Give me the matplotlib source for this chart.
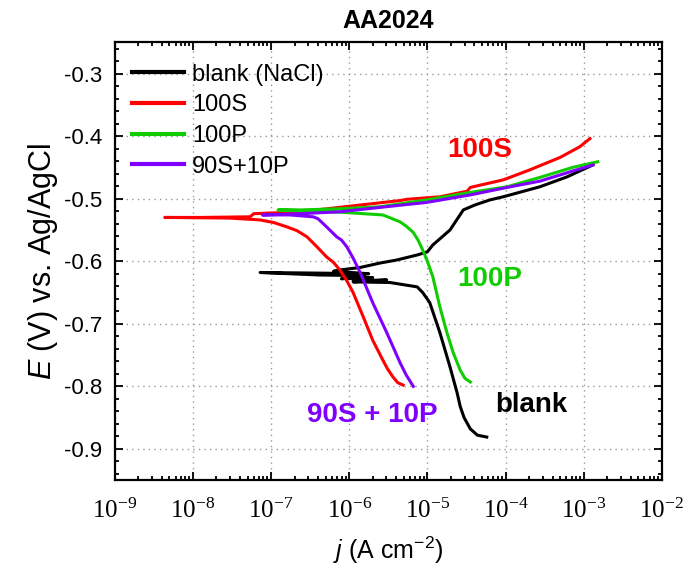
import numpy as np
import matplotlib
matplotlib.use("Agg")
import matplotlib.pyplot as plt
from matplotlib.ticker import MultipleLocator, LogLocator, NullFormatter, FuncFormatter

plt.rcParams['font.family'] = ['Liberation Sans', 'DejaVu Sans']
plt.rcParams['axes.unicode_minus'] = False
plt.rcParams['mathtext.fontset'] = 'custom'
plt.rcParams['mathtext.rm'] = 'Liberation Sans'
plt.rcParams['mathtext.it'] = 'Liberation Sans:italic'

# Polarization curves: log10(j / A cm^-2) and E (V vs Ag/AgCl)
blank_logj = [-4.24, -4.36, -4.45, -4.53, -4.58, -4.62, -4.71, -4.84, -4.97, -5.06,
              -5.13, -5.48, -5.95, -5.52, -5.95, -5.70, -6.10, -5.80, -6.38, -7.14,
              -6.38, -5.75, -6.20, -6.12, -5.86, -5.61, -5.39, -5.13, -5.00, -4.93,
              -4.71, -4.54, -4.39, -4.20, -4.03, -3.56, -3.21, -2.88]
blank_E = [-0.881, -0.878, -0.868, -0.850, -0.832, -0.810, -0.769, -0.714, -0.666, -0.650,
           -0.641, -0.634, -0.633, -0.630, -0.631, -0.626, -0.628, -0.623, -0.622, -0.618,
           -0.619, -0.620, -0.616, -0.614, -0.610, -0.603, -0.598, -0.590, -0.585, -0.574,
           -0.550, -0.518, -0.510, -0.502, -0.497, -0.481, -0.465, -0.446]

s100_logj = [-5.31, -5.38, -5.44, -5.51, -5.57, -5.70, -5.82, -5.95, -6.04, -6.12,
             -6.20, -6.29, -6.42, -6.54, -6.67, -6.80, -6.97, -7.14, -7.53, -8.36,
             -7.91, -7.27, -7.22, -6.63, -5.99, -5.35, -5.26, -4.84, -4.49, -4.45,
             -4.03, -3.69, -3.30, -3.05, -2.92]
s100_E = [-0.798, -0.794, -0.785, -0.772, -0.758, -0.726, -0.689, -0.650, -0.629, -0.614,
          -0.602, -0.593, -0.576, -0.561, -0.551, -0.545, -0.538, -0.534, -0.531, -0.530,
          -0.530, -0.529, -0.524, -0.521, -0.512, -0.503, -0.501, -0.497, -0.488, -0.482,
          -0.470, -0.454, -0.434, -0.417, -0.404]

p100_logj = [-4.45, -4.52, -4.58, -4.67, -4.75, -4.84, -4.93, -5.00, -5.06, -5.12,
             -5.18, -5.27, -5.35, -5.57, -6.06, -6.63, -6.91, -6.63, -6.10, -5.61,
             -5.01, -4.45, -3.98, -3.56, -3.14, -2.82]
p100_E = [-0.793, -0.787, -0.774, -0.746, -0.714, -0.673, -0.625, -0.600, -0.582, -0.566,
          -0.554, -0.544, -0.537, -0.526, -0.522, -0.519, -0.518, -0.518, -0.516, -0.513,
          -0.502, -0.490, -0.481, -0.466, -0.450, -0.441]

mix_logj = [-5.18, -5.27, -5.35, -5.52, -5.70, -5.86, -5.95, -6.03, -6.10, -6.16,
            -6.29, -6.40, -6.46, -6.76, -7.11, -6.63, -6.12, -5.61, -5.01, -4.45,
            -3.98, -3.56, -3.17, -2.88]
mix_E = [-0.800, -0.782, -0.762, -0.714, -0.666, -0.618, -0.595, -0.577, -0.566, -0.561,
         -0.545, -0.532, -0.529, -0.526, -0.526, -0.524, -0.521, -0.514, -0.506, -0.494,
         -0.482, -0.472, -0.457, -0.446]

labels = ['blank (NaCl)', '100S', '100P', '90S+10P']
colors = ['#000000', '#ff0000', '#11cc00', '#7f00ff']

fig = plt.figure(figsize=(6.83, 5.71), dpi=100)
ax = fig.add_axes([0.168, 0.159, 0.801, 0.767])

series = [(blank_logj, blank_E), (s100_logj, s100_E), (p100_logj, p100_E), (mix_logj, mix_E)]
for (lj, e), lab, c in zip(series, labels, colors):
    ax.plot(10 ** np.array(lj), e, color=c, lw=2.2, label=lab, solid_joinstyle='round')

ax.set_xscale('log')
ax.set_xlim(1e-9, 1e-2)
ax.set_ylim(-0.95, -0.25)
ax.yaxis.set_major_locator(MultipleLocator(0.1))
ax.yaxis.set_minor_locator(MultipleLocator(0.02))
ax.yaxis.set_major_formatter(FuncFormatter(lambda v, p: f"{v:.1f}"))
ax.xaxis.set_major_locator(LogLocator(base=10, numticks=20))
ax.xaxis.set_minor_locator(LogLocator(base=10, subs=np.arange(2, 10), numticks=20))
ax.xaxis.set_minor_formatter(NullFormatter())
ax.xaxis.set_major_formatter(FuncFormatter(
    lambda v, p: r'$\mathdefault{10^{%d}}$' % int(round(np.log10(v)))))

ax.tick_params(which='both', direction='in', top=True, right=True, width=1.3)
ax.tick_params(which='major', length=6)
ax.tick_params(which='minor', length=3)
ax.tick_params(axis='x', which='major', pad=13, labelsize=18)
ax.tick_params(axis='y', which='major', pad=9, labelsize=16)
for lbl in ax.get_xticklabels():
    lbl.set_family(['Liberation Serif', 'DejaVu Serif'])
for sp in ax.spines.values():
    sp.set_linewidth(1.6)

ax.grid(True, which='major', linestyle=(0, (1, 3)), color='#999999', linewidth=1)

ax.set_title('AA2024', fontsize=18, fontweight='bold', pad=10)
ax.set_xlabel(r'$j$ (A cm$^{-2}$)', fontsize=18, labelpad=9)
ax.set_ylabel(r'$E$ (V) vs. Ag/AgCl', fontsize=22, labelpad=3)

leg = ax.legend(loc='upper left', frameon=False, fontsize=17, handlelength=2.2,
                handletextpad=0.35, labelspacing=0.37, borderaxespad=0.5,
                bbox_to_anchor=(-0.008, 1.0))
for h in leg.get_lines():
    h.set_linewidth(3)

ax.text(10 ** -4.33, -0.422, '100S', color=colors[1], fontsize=20, fontweight='bold', ha='center', va='center')
ax.text(10 ** -4.20, -0.629, '100P', color=colors[2], fontsize=20, fontweight='bold', ha='center', va='center')
ax.text(10 ** -3.67, -0.830, 'blank', color=colors[0], fontsize=20, fontweight='bold', ha='center', va='center')
ax.text(10 ** -5.71, -0.846, '90S + 10P', color=colors[3], fontsize=20, fontweight='bold', ha='center', va='center')

fig.savefig('out.png', dpi=100)
